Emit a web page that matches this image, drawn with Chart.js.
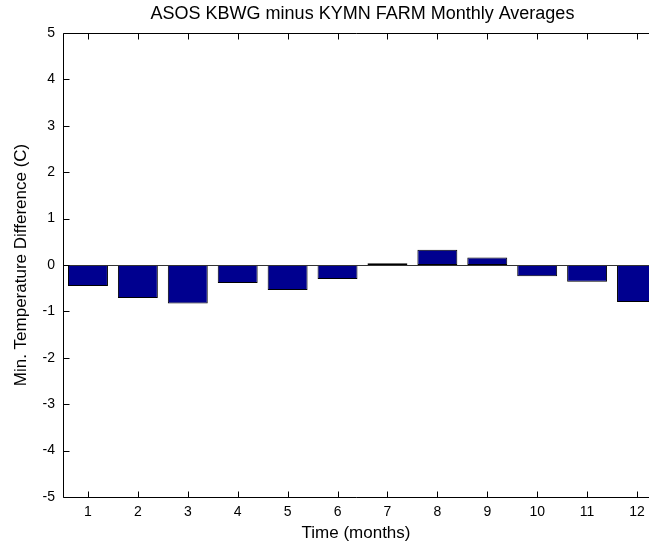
<!DOCTYPE html>
<html>
<head>
<meta charset="utf-8">
<script src="https://cdn.jsdelivr.net/npm/chart.js@4/dist/chart.umd.min.js"></script>
<style>
  html, body { margin: 0; padding: 0; background: #ffffff; }
  #wrap { width: 649px; height: 548px; position: relative; }
</style>
</head>
<body>
<div id="wrap"><canvas id="c" width="649" height="548"></canvas></div>
<script>
const chartTitle = 'ASOS KBWG minus KYMN FARM Monthly Averages';
const xAxisTitle = 'Time (months)';
const yAxisTitle = 'Min. Temperature Difference (C)';
const months = [1, 2, 3, 4, 5, 6, 7, 8, 9, 10, 11, 12];
const minTempDiff = [-0.45, -0.71, -0.83, -0.39, -0.54, -0.30, 0.04, 0.33, 0.16, -0.24, -0.36, -0.80];
const yTickValues = [-5, -4, -3, -2, -1, 0, 1, 2, 3, 4, 5];

const FONT = 'Liberation Sans, Arial, Helvetica, sans-serif';

const matlabAxes = {
  id: 'matlabAxes',
  afterDatasetsDraw(chart) {
    const { ctx, chartArea: a, scales: { x, y } } = chart;
    ctx.save();
    ctx.lineWidth = 1;
    const right = chart.width;
    // baseline at zero
    const y0 = Math.round(y.getPixelForValue(0)) + 0.5;
    ctx.beginPath();
    ctx.moveTo(a.left, y0);
    ctx.lineTo(right, y0);
    ctx.strokeStyle = '#333333';
    ctx.stroke();
    ctx.strokeStyle = '#000000';
    const top = Math.round(a.top) + 0.5;
    const bottom = Math.round(a.bottom) + 0.5;
    const left = Math.round(a.left) + 0.5;
    ctx.beginPath();
    ctx.moveTo(left, top);
    ctx.lineTo(right, top);
    ctx.moveTo(left, top);
    ctx.lineTo(left, bottom);
    ctx.moveTo(left, bottom);
    ctx.lineTo(right, bottom);
    // inward x ticks (bottom and top)
    const tl = 6;
    months.forEach(m => {
      const px = Math.round(x.getPixelForValue(m)) + 0.5;
      ctx.moveTo(px, bottom);
      ctx.lineTo(px, bottom - tl);
      ctx.moveTo(px, top);
      ctx.lineTo(px, top + tl);
    });
    // inward y ticks (left)
    yTickValues.forEach(v => {
      const py = Math.round(y.getPixelForValue(v)) + 0.5;
      ctx.moveTo(left, py);
      ctx.lineTo(left + tl, py);
    });
    ctx.stroke();
    ctx.restore();
  },
  afterDraw(chart) {
    const { ctx, scales: { x } } = chart;
    ctx.save();
    ctx.fillStyle = '#000000';
    ctx.font = '18px ' + FONT;
    ctx.textAlign = 'center';
    ctx.textBaseline = 'middle';
    ctx.fillText(chartTitle, x.getPixelForValue(6.5), 14);
    ctx.restore();
  }
};

new Chart(document.getElementById('c'), {
  type: 'bar',
  data: {
    datasets: [{
      data: months.map((m, i) => ({ x: m, y: minTempDiff[i] })),
      backgroundColor: 'rgb(0,0,143)',
      borderColor: '#000000',
      borderWidth: 1,
      borderSkipped: false,
      barPercentage: 0.8,
      categoryPercentage: 1.0
    }]
  },
  options: {
    responsive: false,
    animation: false,
    devicePixelRatio: 1,
    layout: { padding: { top: 33, left: 0, right: 0, bottom: 0 } },
    plugins: {
      legend: { display: false },
      tooltip: { enabled: false },
      title: { display: false }
    },
    scales: {
      x: {
        type: 'linear',
        offset: false,
        min: 0.5,
        max: 12.24,
        afterBuildTicks(scale) { scale.ticks = months.map(v => ({ value: v })); },
        afterFit(scale) { scale.height = 51; scale.paddingRight = 0; scale.paddingLeft = 0; },
        grid: { display: false, drawTicks: false },
        border: { display: false },
        ticks: {
          padding: 7,
          color: '#000000',
          font: { family: FONT, size: 14 },
          maxRotation: 0,
          autoSkip: false
        },
        title: {
          display: true,
          text: xAxisTitle,
          color: '#000000',
          font: { family: FONT, size: 17 },
          padding: { top: 0, bottom: 4 }
        }
      },
      y: {
        min: -5,
        max: 5,
        afterBuildTicks(scale) { scale.ticks = yTickValues.map(v => ({ value: v })); },
        afterFit(scale) { scale.width = 63; },
        grid: { display: false, drawTicks: false },
        border: { display: false },
        ticks: {
          padding: 8,
          color: '#000000',
          font: { family: FONT, size: 14 }
        },
        title: {
          display: true,
          text: yAxisTitle,
          color: '#000000',
          font: { family: FONT, size: 17 },
          padding: { top: 11, bottom: 0 }
        }
      }
    }
  },
  plugins: [matlabAxes]
});
</script>
</body>
</html>
